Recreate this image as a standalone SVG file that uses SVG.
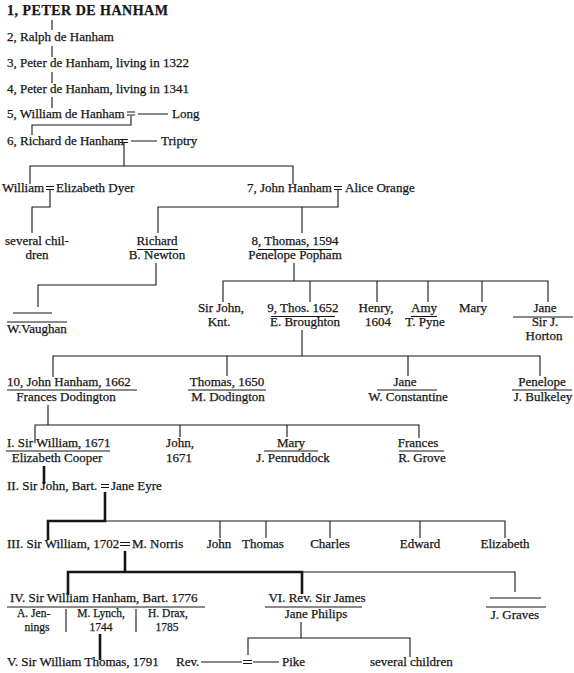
<svg xmlns="http://www.w3.org/2000/svg" width="574" height="673" viewBox="0 0 574 673">
<style>
text{font-family:"Liberation Serif","Times New Roman",serif;font-size:13px;fill:#161616;stroke:#161616;stroke-width:0.25}
.c{text-anchor:middle}
.b{font-weight:bold;font-size:14px;letter-spacing:0.5px}
.s{font-size:11.5px}
.l{stroke:#161616;stroke-width:1.1;fill:none}
.k{stroke:#161616;stroke-width:2.6;fill:none}
</style>
<rect width="574" height="673" fill="#ffffff"/>
<g id="connectors">
<path class="l" d="M52,20V30M52,46V57M52,72V83M52,97V108"/>
<path class="l" d="M131,116V125H32V135"/>
<path class="l" d="M124,143V166M30,184V166H293V184"/>
<path class="l" d="M50,190V207H32V233"/>
<path class="l" d="M338,190V207H158V233M302,207V233"/>
<path class="l" d="M156,263V285H38V307"/>
<path class="l" d="M294,263V281M223,302V281H548V302M310,281V302M377,281V302M428,281V302M482,281V302"/>
<path class="l" d="M302,330V356M53,377V356H540V376M227,356V376M408,356V376"/>
<path class="l" d="M48,405V425M35,443V425H419V438M180,425V437M287,425V437"/>
<path class="k" d="M44,466V484"/>
<path class="k" d="M105,492V521H48V540"/>
<path class="l" d="M105,521H505V538M220,521V538M266,521V538M330,521V538M420,521V538"/>
<path class="k" d="M125,551V572M68,595V572H302V594"/>
<path class="l" d="M302,572H515V592"/>
<path class="k" d="M100,634V660"/>
<path class="l" d="M301,622V638H248V655M301,638H410V657"/>
</g>
<g id="n1"><text class="b" x="7" y="15">1, PETER DE HANHAM</text></g>
<g id="n2"><text x="7" y="41">2, Ralph de Hanham</text></g>
<g id="n3"><text x="7" y="67">3, Peter de Hanham, living in 1322</text></g>
<g id="n4"><text x="7" y="93">4, Peter de Hanham, living in 1341</text></g>
<g id="n5"><text x="7" y="118">5, William de Hanham</text>
<path class="l" d="M127,112H135M127,115H135M138,114H168"/><text x="172" y="118">Long</text></g>
<g id="n6"><text x="7" y="145">6, Richard de Hanham</text>
<path class="l" d="M120,139.5H128M120,142.5H128M131,141H157"/><text x="161" y="145">Triptry</text></g>
<g id="n7a"><text x="2" y="192">William</text>
<path class="l" d="M46,186.5H54M46,189.5H54"/><text x="56" y="192">Elizabeth Dyer</text></g>
<g id="n7"><text x="247" y="192">7, John Hanham</text>
<path class="l" d="M334,186.5H342M334,189.5H342"/><text x="345" y="192">Alice Orange</text></g>
<g id="n8a"><text class="c" x="37" y="245">several chil-</text><text class="c" x="37" y="259">dren</text></g>
<g id="n8b"><text class="c" x="157" y="245">Richard</text><path class="l" d="M137,249.5H178"/><text class="c" x="157" y="259">B. Newton</text></g>
<g id="n8"><text class="c" x="295" y="245">8, Thomas, 1594</text><path class="l" d="M258,249.5H332"/><text class="c" x="295" y="259">Penelope Popham</text></g>
<g id="n9a"><path class="l" d="M13,313H52M7,322H67"/><text x="7" y="333">W.Vaughan</text></g>
<g id="n9b"><text class="c" x="221" y="312">Sir John,</text><text class="c" x="219" y="326">Knt.</text></g>
<g id="n9"><text class="c" x="303" y="312">9, Thos. 1652</text><path class="l" d="M271,316.5H335"/><text class="c" x="305" y="326">E. Broughton</text></g>
<g id="n9c"><text class="c" x="376" y="312">Henry,</text><text class="c" x="378" y="326">1604</text></g>
<g id="n9d"><text class="c" x="424" y="312">Amy</text><path class="l" d="M411,316.5H437"/><text class="c" x="425" y="326">T. Pyne</text></g>
<g id="n9e"><text class="c" x="473" y="312">Mary</text></g>
<g id="n9f"><text class="c" x="545" y="312">Jane</text><path class="l" d="M513,317H573"/><text class="c" x="545" y="326">Sir J.</text><text class="c" x="544" y="340">Horton</text></g>
<g id="n10"><text x="7" y="386">10, John Hanham, 1662</text><path class="l" d="M7,390H137"/><text class="c" x="66" y="401">Frances Dodington</text></g>
<g id="n10b"><text class="c" x="227" y="386">Thomas, 1650</text><path class="l" d="M188,390H266"/><text class="c" x="228" y="401">M. Dodington</text></g>
<g id="n10c"><text class="c" x="405" y="386">Jane</text><path class="l" d="M377,390H437"/><text class="c" x="408" y="401">W. Constantine</text></g>
<g id="n10d"><text class="c" x="542" y="386">Penelope</text><path class="l" d="M512,390H572"/><text class="c" x="543" y="401">J. Bulkeley</text></g>
<g id="nI"><text x="7" y="447">I. Sir William, 1671</text><path class="l" d="M6,451H110"/><text class="c" x="57" y="462">Elizabeth Cooper</text></g>
<g id="nIb"><text class="c" x="180" y="447">John,</text><text class="c" x="179" y="462">1671</text></g>
<g id="nIc"><text class="c" x="291" y="447">Mary</text><path class="l" d="M264,451H318"/><text class="c" x="293" y="462">J. Penruddock</text></g>
<g id="nId"><text class="c" x="418" y="447">Frances</text><path class="l" d="M399,451H444"/><text class="c" x="422" y="462">R. Grove</text></g>
<g id="nII"><text x="7" y="490">II. Sir John, Bart.</text><path class="l" d="M101,484.5H109M101,487.5H109"/><text x="111" y="490">Jane Eyre</text></g>
<g id="nIII"><text x="7" y="548">III. Sir William, 1702</text><path class="l" d="M120,542.5H130M120,545.5H130"/><text x="132" y="548">M. Norris</text></g>
<g id="nIIIb"><text class="c" x="219" y="548">John</text></g>
<g id="nIIIc"><text class="c" x="263" y="548">Thomas</text></g>
<g id="nIIId"><text class="c" x="330" y="548">Charles</text></g>
<g id="nIIIe"><text class="c" x="420" y="548">Edward</text></g>
<g id="nIIIf"><text class="c" x="505" y="548">Elizabeth</text></g>
<g id="nIV"><text x="10" y="602">IV. Sir William Hanham, Bart. 1776</text><path class="l" d="M7,607H205M66,609V632M136,609V632"/>
<text class="s" x="17" y="617">A. Jen-</text><text class="c s" x="37" y="631">nings</text>
<text class="c s" x="101" y="617">M. Lynch,</text><text class="c s" x="101" y="631">1744</text>
<text class="c s" x="168" y="617">H. Drax,</text><text class="c s" x="167" y="631">1785</text></g>
<g id="nVI"><text class="c" x="317" y="602">VI. Rev. Sir James</text><path class="l" d="M265,607H362"/><text class="c" x="316" y="618">Jane Philips</text></g>
<g id="nGraves"><path class="l" d="M490,598H541M486,607H546"/><text class="c" x="515" y="619">J. Graves</text></g>
<g id="nV"><text x="7" y="666">V. Sir William Thomas, 1791</text></g>
<g id="nRev"><text x="176" y="666">Rev.</text><path class="l" d="M201,662H242M243,660.5H252M243,663.5H252M253,662H279"/><text x="282" y="666">Pike</text></g>
<g id="nSev"><text x="370" y="666">several children</text></g>
</svg>
